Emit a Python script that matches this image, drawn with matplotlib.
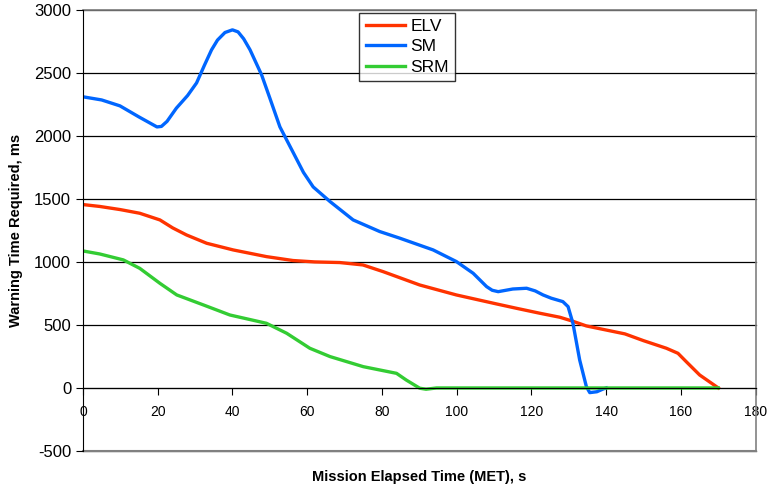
import matplotlib
matplotlib.use("Agg")
import matplotlib.pyplot as plt

plt.rcParams['font.family'] = ['Liberation Sans', 'DejaVu Sans']

# ELV
elv_t = [0, 4.5, 10, 15.2, 20.6, 24, 27.7, 33.1, 40.2, 49.1, 56.2, 62, 68.7, 74.9,
         80.3, 90.1, 99.9, 110.6, 116, 122.2, 127.6, 131, 134.7, 145, 150, 156.1,
         159.2, 161.4, 165, 170]
elv_v = [1455, 1440, 1415, 1386, 1333, 1270, 1214, 1148, 1095, 1042, 1011, 1000, 995, 976,
         923, 817, 738, 667, 632, 593, 561, 530, 492, 429, 375, 315,
         275, 209, 103, 0]

# SM
sm_t = [0, 5, 9.9, 15, 19.8, 21, 22.5, 25, 28, 30.4, 32.5, 34.4, 36, 38, 40.0, 41.5, 43, 44.7,
        47.8, 50, 52.7, 56.3, 59, 61.6, 66.1, 72.3, 79.4, 84.8, 93.7, 99.9, 104.4,
        108, 109.5, 111.1, 115, 118.7, 121, 123.1, 125.3, 128.4, 129.8, 131.1, 132.9, 134.7,
        135.6, 137.5, 139.2, 140]
sm_v = [2310, 2285, 2238, 2150, 2071, 2075, 2115, 2220, 2320, 2420, 2560, 2682, 2760, 2820, 2841, 2825, 2770, 2683,
        2484, 2300, 2071, 1865, 1710, 1595, 1479, 1333, 1241, 1188, 1095, 1003, 910,
        804, 775, 764, 785, 791, 770, 738, 712, 685, 645, 513, 222, 10,
        -37, -30, -8, 0]

# SRM
srm_t = [0, 4.5, 10.8, 15.2, 20.6, 25.1, 32.2, 39.3, 49.1, 54.5, 60.7, 66.1, 75,
         83.9, 86.5, 90.1, 91.8, 94.6, 170]
srm_v = [1087, 1063, 1016, 949, 830, 738, 659, 579, 513, 434, 315, 249, 169,
         116, 63, -2, -10, 0, 0]

xticks = list(range(0, 181, 20))
yticks = list(range(-500, 3001, 500))

fig = plt.figure(figsize=(7.68, 4.91), dpi=100)
ax = fig.add_axes([0.108, 0.0815, 0.876, 0.8985])

for y in yticks:
    ax.axhline(y, color='black', lw=0.9, zorder=0, clip_on=False)
ax.axhline(3000, color='#808080', lw=1.2, zorder=0, clip_on=False)
ax.axhline(-500, color='#808080', lw=1.5, zorder=0, clip_on=False)

ax.plot(elv_t, elv_v, color='#FF3300', lw=2.4, label='ELV')
ax.plot(sm_t, sm_v, color='#0066FF', lw=2.4, label='SM')
ax.plot(srm_t, srm_v, color='#33CC33', lw=2.4, label='SRM')

ax.set_xlim(0, 180)
ax.set_ylim(-500, 3000)
ax.set_xticks(xticks)
ax.set_yticks(yticks)
ax.set_xticklabels([str(v) for v in xticks], fontsize=12)
ax.set_yticklabels([str(v) for v in yticks], fontsize=12)

ax.spines['bottom'].set_position(('data', 0))
ax.spines['bottom'].set_color('black')
ax.spines['left'].set_color('black')
ax.spines['top'].set_visible(False)
ax.spines['right'].set_color('#808080')
ax.spines['right'].set_linewidth(1.2)
ax.tick_params(axis='both', direction='out', length=5, color='black')
ax.tick_params(axis='x', pad=7)

ax.set_ylabel('Warning Time Required, ms', fontsize=10.5, fontweight='bold', labelpad=8)
ax.set_xlabel('Mission Elapsed Time (MET), s', fontsize=10.5, fontweight='bold')
ax.xaxis.set_label_coords(0.5, -0.042, transform=ax.transAxes)

leg = ax.legend(loc='upper left', bbox_to_anchor=(0.411, 0.993), fontsize=12.5,
                frameon=True, fancybox=False, edgecolor='black', handlelength=2.3,
                borderpad=0.35, labelspacing=0.3, handletextpad=0.3, borderaxespad=0)
leg.get_frame().set_linewidth(1.0)

fig.savefig('out.png', dpi=100)
